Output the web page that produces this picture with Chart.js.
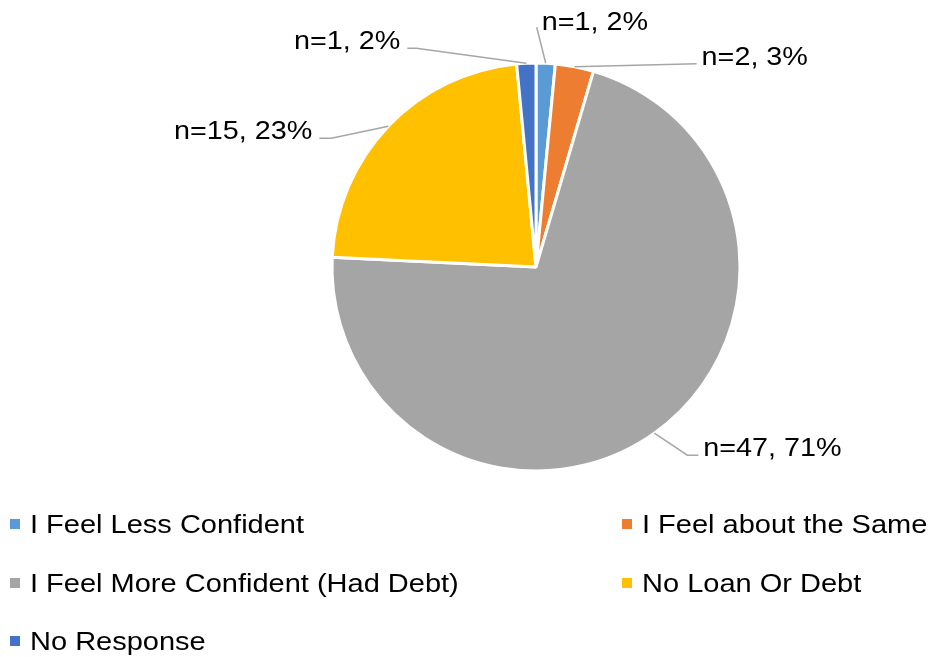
<!DOCTYPE html>
<html>
<head>
<meta charset="utf-8">
<script src="https://cdn.jsdelivr.net/npm/chart.js@4.4.0/dist/chart.umd.min.js"></script>
<style>
  html, body { margin: 0; padding: 0; background: #fff; }
  #wrap { position: relative; width: 932px; height: 657px; overflow: hidden; }
  #pie { position: absolute; left: 0; top: 0; }
  #legend { position: absolute; left: 0; top: 0; width: 932px; height: 657px; pointer-events: none; }
  .legend-item {
    position: absolute; display: flex; align-items: center;
    height: 30px; line-height: 30px;
    font-family: 'Liberation Sans', Arial, sans-serif; font-size: 25px; color: #000;
    white-space: nowrap;
  }
  .legend-item .swatch { width: 10px; height: 10px; margin-right: 10px; flex: none; }
  .legend-item .txt { display: inline-block; transform: scaleX(1.16); transform-origin: left center; }
</style>
</head>
<body>
<div id="wrap">
  <canvas id="pie" width="932" height="657"></canvas>
  <div id="legend"></div>
</div>
<script>
// survey responses, drawn clockwise from 12 o'clock
const categories = [
    'I Feel Less Confident',
    'I Feel about the Same',
    'I Feel More Confident (Had Debt)',
    'No Loan Or Debt',
    'No Response'
];
const counts = [1, 2, 47, 15, 1];
const sliceColors = ['#5B9BD5', '#ED7D31', '#A5A5A5', '#FFC000', '#4472C4'];

// leader line layout for each data label, relative to the slice's outer midpoint
const labelLayout = [
    { elbow: [-9, -36],   end: [-9, -36],   align: 'left',  gap: 5, lift: 3 },
    { elbow: [122, -3],   end: [122, -3],   align: 'left',  gap: 5, lift: 1 },
    { elbow: [33, 22],    end: [44, 22],    align: 'left',  gap: 5, lift: 1 },
    { elbow: [-57, 12],   end: [-69, 12],   align: 'right', gap: 7, lift: 1 },
    { elbow: [-110, -15], end: [-119, -15], align: 'right', gap: 7, lift: 1 }
];

const FONT = "25px 'Liberation Sans', Arial, sans-serif";
const TEXT_STRETCH = 1.15;

const total = counts.reduce((a, b) => a + b, 0);

const leaderLabels = {
    id: 'leaderLabels',
    afterDatasetsDraw(chart) {
        const ctx = chart.ctx;
        const arcs = chart.getDatasetMeta(0).data;
        ctx.save();
        ctx.font = FONT;
        ctx.fillStyle = '#000';
        ctx.textBaseline = 'alphabetic';
        arcs.forEach((arc, i) => {
            const p = arc.getProps(['x', 'y', 'startAngle', 'endAngle', 'outerRadius'], true);
            const mid = (p.startAngle + p.endAngle) / 2;
            const ax = p.x + Math.cos(mid) * p.outerRadius;
            const ay = p.y + Math.sin(mid) * p.outerRadius;
            const lay = labelLayout[i];
            const ex = ax + lay.elbow[0], ey = ay + lay.elbow[1];
            const tx = ax + lay.end[0], ty = ay + lay.end[1];

            ctx.beginPath();
            ctx.strokeStyle = '#A6A6A6';
            ctx.lineWidth = 1.5;
            ctx.moveTo(ax, ay);
            ctx.lineTo(ex, ey);
            ctx.lineTo(tx, ty);
            ctx.stroke();

            const pct = Math.round(counts[i] / total * 100);
            const text = `n=${counts[i]}, ${pct}%`;
            ctx.save();
            const x = lay.align === 'left' ? tx + lay.gap : tx - lay.gap;
            ctx.translate(x, ty + lay.lift);
            ctx.scale(TEXT_STRETCH, 1);
            ctx.textAlign = lay.align;
            ctx.fillText(text, 0, 0);
            ctx.restore();
        });
        ctx.restore();
    }
};

new Chart(document.getElementById('pie'), {
    type: 'pie',
    data: {
        labels: categories,
        datasets: [{
            data: counts,
            backgroundColor: sliceColors,
            borderColor: '#fff',
            borderWidth: 3
        }]
    },
    options: {
        responsive: false,
        animation: false,
        radius: 204,
        layout: { padding: { left: 333, right: 193, top: 64, bottom: 187 } },
        plugins: {
            legend: { display: false },
            tooltip: { enabled: false }
        }
    },
    plugins: [leaderLabels]
});

// two-column legend under the pie
const legend = document.getElementById('legend');
categories.forEach((name, i) => {
    const row = Math.floor(i / 2), col = i % 2;
    const item = document.createElement('div');
    item.className = 'legend-item';
    item.style.left = (col ? 622 : 10) + 'px';
    item.style.top = (509 + row * 58.5) + 'px';
    item.innerHTML = `<span class="swatch" style="background:${sliceColors[i]}"></span><span class="txt">${name}</span>`;
    legend.appendChild(item);
});
</script>
</body>
</html>
